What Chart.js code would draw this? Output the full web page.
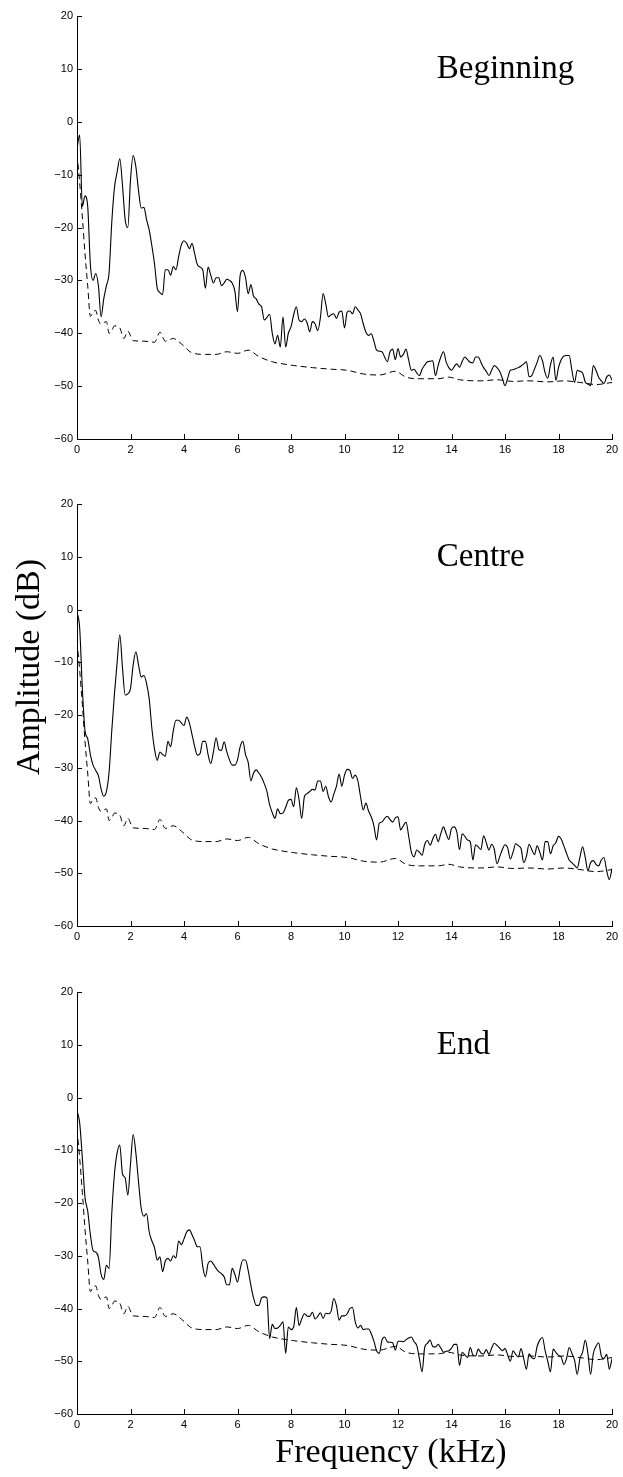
<!DOCTYPE html>
<html lang="en">
<head>
  <meta charset="UTF-8" />
  <title>Amplitude spectra</title>
  <style>
    body {
      margin: 0;
      background: #ffffff;
    }

    #page {
      position: relative;
      width: 623px;
      height: 1477px;
      overflow: hidden;
    }

    canvas {
      position: absolute;
      left: 0;
    }

    .axis-title {
      position: absolute;
      width: 260px;
      font-family: 'Liberation Serif', 'Times New Roman', serif;
      font-size: 34px;
      line-height: 34px;
      color: #000;
      text-align: center;
      white-space: nowrap;
    }

    #ylabel {
      left: -102.5px;
      top: 649.5px;
      transform: rotate(-90deg);
    }

    #xlabel {
      left: 261px;
      top: 1433.5px;
    }
  </style>
</head>
<body>
  <div id="page">
    <canvas id="begin" width="623" height="459" style="top:0px"></canvas>
    <canvas id="centre" width="623" height="466" style="top:480px"></canvas>
    <canvas id="end" width="623" height="464" style="top:970px"></canvas>
    <div class="axis-title" id="ylabel">Amplitude (dB)</div>
    <div class="axis-title" id="xlabel">Frequency (kHz)</div>
  </div>

  <script src="https://cdn.jsdelivr.net/npm/chart.js"></script>
  <script>
    // frequency grid for the measured spectra, 0..20 kHz every 0.1 kHz
    const freqKHz = [];
    for (let i = 0; i <= 200; i++) freqKHz.push(i / 10);

    const beginningDb = [
      -5, -2.5, -16, -14, -16, -27, -30, -28.7, -31, -36.9,
      -33.5, -31, -28.5, -19, -12.5, -9.5, -7, -12, -18.5, -20,
      -11, -6.4, -8.5, -13, -16.3, -16.2, -18.5, -20.5, -23.5, -27,
      -31.5, -32.3, -32.7, -28, -28, -29, -27.4, -28, -25.5, -23.3,
      -22.5, -23, -24, -23, -25, -27, -27.5, -28, -31.5, -27.5,
      -29, -30.5, -29.5, -29.5, -31, -30.5, -29.8, -30, -30.5, -32,
      -35.9, -29, -28.1, -29.5, -32.5, -30.8, -33, -33.5, -34.5, -35,
      -37.5, -37, -36.4, -40, -42, -40.4, -42.6, -36.9, -42.6, -40,
      -38.8, -36.5, -35, -37.5, -37.8, -37.3, -38, -39.7, -37.8, -38.2,
      -39.5, -37, -32.5, -34.5, -36.9, -36.5, -36.3, -37.2, -36, -35.8,
      -39, -36, -35.8, -36.3, -35, -35.6, -36.3, -38.2, -39.8, -40.4,
      -40.1, -41.5, -43.2, -43.4, -43.5, -44.5, -45.4, -43.5, -43, -45,
      -42.9, -44.5, -44, -43, -45.1, -47, -46.8, -47.5, -48, -46.8,
      -46, -45.4, -45.3, -45.2, -48, -46.1, -44.5, -43.5, -45.4, -46.5,
      -47, -46.3, -45.8, -46.4, -45.3, -44.5, -45, -45.5, -45.6, -44.5,
      -44.5, -45.5, -46.5, -47.2, -48, -47, -46.1, -46.5, -47.2, -48.5,
      -49.9, -48.5, -47, -46.9, -46.7, -46.5, -46.2, -45.8, -45.4, -48.2,
      -48, -46.8, -45.5, -44.2, -45.2, -47.5, -48.5, -46, -44.5, -48.9,
      -46.5, -45, -44.3, -44.2, -44.2, -47, -49.3, -47, -47.2, -47.5,
      -49.2, -49.6, -49.9, -46.1, -47, -48.3, -49, -49.5, -48.3, -47.9,
      -48.9
    ];

    const centreDb = [
      -0.5, -3.5, -15, -23, -24.5, -27.5, -29.5, -30.5, -31.5, -34,
      -35.4, -34.5, -30.8, -23, -16, -10, -4.8, -11, -16.2, -16,
      -15, -10.5, -8, -10.5, -12.8, -12.5, -14, -17, -22.6, -26.5,
      -28.6, -27, -27.5, -27.8, -25, -26, -23, -21, -21, -21.5,
      -22, -20.4, -21.5, -23.7, -26, -27.6, -27.3, -25, -25, -27.5,
      -29.2, -27, -24.3, -26.5, -26.7, -25.1, -27, -28.5, -29.5, -29.5,
      -28.5, -26, -25, -27.5, -29, -32.5, -31, -30.4, -31, -31.8,
      -33, -34.5, -37, -38.5, -39.6, -37.8, -38.7, -38.6, -37.5, -36.2,
      -36, -37.4, -33.8, -36, -39.6, -35.5, -34.9, -34.5, -34.1, -34.2,
      -32.5, -32.5, -34.5, -33.5, -35.5, -36.5, -35, -33.5, -31.2, -33.5,
      -31.4, -30.3, -30.5, -32, -31.4, -32.5, -35.5, -38, -36.7, -38.2,
      -39.3, -41, -43.7, -40.5, -40.3, -39.6, -39.2, -39.8, -40.3, -39.5,
      -39.3, -41.8, -41, -40.3, -43, -46, -46.9, -45.6, -46, -46.6,
      -44.5, -43.8, -44.7, -43.5, -42.6, -44, -42.5, -41.2, -42.5, -43.6,
      -41.5, -41.2, -42.2, -45.5, -42.5, -43, -43.7, -44, -47.5, -44.6,
      -45, -45.5, -42.9, -44.2, -45.6, -44.5, -45.5, -48.2, -46.9, -45.5,
      -44.6, -45.2, -47.3, -46, -44.4, -44.8, -45.3, -48, -46.8, -44.5,
      -45.5, -46.5, -44.8, -46, -47.5, -44, -44, -46.3, -44.8, -44.2,
      -43, -43.5, -44.8, -46.2, -47.5, -48, -48.5, -49, -47, -45,
      -47, -49.5, -48, -47.6, -48.3, -48.6, -47.5, -47, -49.5, -51.2,
      -49.1
    ];

    const endDb = [
      -2.5, -4.8, -11.5, -19, -21.5, -26, -29, -29.3, -30.3, -33.5,
      -34.5, -31.8, -32.4, -22, -14.5, -10.5, -9, -14.5, -15.2, -18.5,
      -12.6, -7, -10.5, -16, -21, -22.5, -22, -25.5, -27.2, -28.5,
      -30.8, -30.2, -33, -31, -30.5, -31, -30, -30.4, -27.2, -27.9,
      -26.8, -25.5, -25.1, -26, -27.2, -28.3, -28.3, -32, -34, -31.5,
      -31, -31.6, -32.4, -33, -33.4, -34, -35.5, -35.5, -32.4, -33.5,
      -35, -32.5, -30.8, -30.8, -32.8, -35.6, -38, -39.4, -39.4, -38,
      -37.8, -38, -45.7, -43, -43.8, -43.7, -43.2, -42.5, -48.5, -43.5,
      -44, -43.5, -39.8, -43.2, -42, -41, -41.4, -41.5, -40.7, -42,
      -41.5, -40.8, -41.9, -40.9, -41, -40.5, -38.1, -39.5, -42.2, -41.4,
      -41.4, -41, -40, -39.8, -42.5, -43.7, -43.2, -44, -43.9, -43.9,
      -44.8, -46.2, -48, -48.5, -46, -45.4, -46.3, -46.4, -46.5, -47.9,
      -46.2, -46.2, -46.3, -45.9, -45.6, -45.4, -46.3, -47, -49.5, -52,
      -47.3, -46.6, -46, -47.2, -47.3, -46.8, -47.5, -48.3, -48.1, -48,
      -47.5, -46.8, -46.8, -50.8, -48.3, -48.8, -49.3, -47.4, -48.8, -49,
      -47.7, -48.4, -48.6, -47.8, -48.7, -47.5, -46.6, -47, -47.5, -48,
      -47.6, -48.8, -50, -48, -48.7, -49.2, -47.6, -49.5, -51.5, -48.6,
      -49.3, -49.5, -47.2, -46, -45.5, -48, -50, -52, -47.7, -48.3,
      -48.9, -49.2, -50.6, -49.5, -47.4, -48.5, -49.8, -52.5, -49.5, -48.3,
      -46, -48.5, -52.5, -48.6, -47.2, -46.5, -49, -49.5, -48.7, -51.5,
      -49.5
    ];

    // background (noise floor) spectrum, dashed in every panel
    const floorKHz = [
      0, 0.1, 0.2, 0.3, 0.4, 0.5, 0.6, 0.7, 0.8, 0.9, 1.0, 1.1, 1.2, 1.3, 1.4,
      1.6, 1.75, 1.9, 2.1, 2.5, 2.9, 3.1, 3.3, 3.6, 3.9,
      4.3, 4.8, 5.2, 5.6, 6.0, 6.4, 6.8, 7.3, 7.7, 8.1,
      8.8, 9.5, 10.1, 10.7, 11.3, 11.9, 12.3, 12.8, 13.5, 13.9,
      14.3, 15.1, 15.7, 16.3, 16.9, 17.6, 18.2, 18.8, 19.4, 20
    ];
    const floorDb = [
      -6, -11.5, -18, -25, -31, -36.8, -36, -35.7, -37.5, -38.3, -38, -37.8, -40, -39.5, -38.6,
      -39, -41, -39.6, -41.4, -41.5, -41.7, -39.8, -41.5, -41, -42,
      -43.7, -44, -44, -43.5, -43.8, -43.2, -44.4, -45.4, -45.8, -46.1,
      -46.5, -46.8, -47, -47.7, -47.9, -47.2, -48.3, -48.6, -48.6, -48.3,
      -48.8, -49, -48.8, -49.1, -49, -49.2, -49, -49.3, -49.7, -49.3
    ];

    const xTicks = [0, 2, 4, 6, 8, 10, 12, 14, 16, 18, 20];
    const yTicks = [-60, -50, -40, -30, -20, -10, 0, 10, 20];

    const toPoints = (xs, ys) => xs.map((x, i) => ({ x, y: ys[i] }));
    const minus = v => (v < 0 ? '\u2212' + (-v) : String(v));

    // short tick marks drawn inside the axes, matlab style
    const inwardTicks = {
      id: 'inwardTicks',
      afterDraw(chart) {
        const { ctx, chartArea: a, scales: { x, y } } = chart;
        ctx.save();
        ctx.strokeStyle = '#000';
        ctx.lineWidth = 1;
        ctx.beginPath();
        xTicks.forEach(v => {
          const px = Math.round(x.getPixelForValue(v)) + 0.5;
          ctx.moveTo(px, a.bottom);
          ctx.lineTo(px, a.bottom - 5);
        });
        yTicks.forEach(v => {
          const py = Math.round(y.getPixelForValue(v)) + 0.5;
          ctx.moveTo(a.left, py);
          ctx.lineTo(a.left + 5, py);
        });
        ctx.stroke();
        ctx.restore();
      }
    };

    // panel name written inside the plot, upper right
    const panelName = {
      id: 'panelName',
      afterDraw(chart, args, opts) {
        const { ctx, scales: { x, y } } = chart;
        ctx.save();
        ctx.fillStyle = '#000';
        ctx.font = '33px "Liberation Serif", serif';
        ctx.textAlign = 'left';
        ctx.textBaseline = 'alphabetic';
        ctx.fillText(opts.text, x.getPixelForValue(13.45), y.getPixelForValue(8.2));
        ctx.restore();
      }
    };

    function drawPanel(id, values, name, padTop) {
      const ctx = document.getElementById(id).getContext('2d');
      return new Chart(ctx, {
        type: 'line',
        data: {
          datasets: [
            {
              data: toPoints(freqKHz, values),
              borderColor: '#000',
              borderWidth: 1.1,
              pointRadius: 0,
              cubicInterpolationMode: 'monotone',
              fill: false
            },
            {
              data: toPoints(floorKHz, floorDb),
              borderColor: '#000',
              borderWidth: 1,
              borderDash: [6, 4],
              pointRadius: 0,
              cubicInterpolationMode: 'monotone',
              fill: false
            }
          ]
        },
        options: {
          responsive: false,
          animation: false,
          devicePixelRatio: 1,
          layout: { padding: { top: padTop, right: 11, bottom: 0, left: 0 } },
          plugins: {
            legend: { display: false },
            tooltip: { enabled: false },
            panelName: { text: name }
          },
          scales: {
            x: {
              type: 'linear',
              min: 0,
              max: 20,
              afterFit: s => { s.height = 20; },
              afterBuildTicks: s => { s.ticks = xTicks.map(v => ({ value: v })); },
              grid: { display: false, drawTicks: false },
              border: { display: true, color: '#000', width: 1 },
              ticks: {
                padding: 4,
                color: '#000',
                font: { family: 'Liberation Sans, Arial, sans-serif', size: 11 },
                maxRotation: 0,
                callback: minus
              }
            },
            y: {
              type: 'linear',
              min: -60,
              max: 20,
              afterFit: s => { s.width = 77; },
              afterBuildTicks: s => { s.ticks = yTicks.map(v => ({ value: v })); },
              grid: { display: false, drawTicks: false },
              border: { display: true, color: '#000', width: 1 },
              ticks: {
                padding: 4,
                color: '#000',
                font: { family: 'Liberation Sans, Arial, sans-serif', size: 11 },
                callback: minus
              }
            }
          }
        },
        plugins: [inwardTicks, panelName]
      });
    }

    drawPanel('begin', beginningDb, 'Beginning', 16);
    drawPanel('centre', centreDb, 'Centre', 24);
    drawPanel('end', endDb, 'End', 22);
  </script>
</body>
</html>
